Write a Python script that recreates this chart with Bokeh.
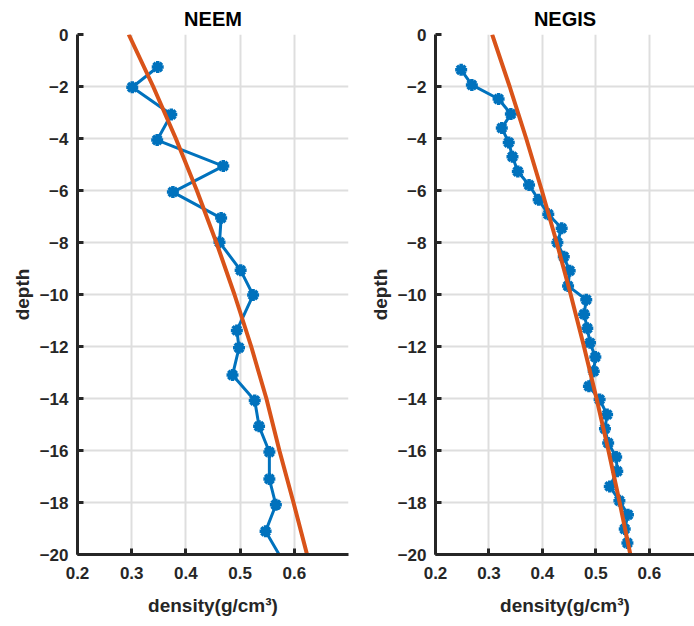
from bokeh.plotting import figure
from bokeh.layouts import row
from bokeh.models import FixedTicker, Range1d
from bokeh.embed import file_html
from bokeh.resources import INLINE

# ---- data ----
neem_depth = [-1.25, -2.03, -3.08, -4.06, -5.06, -6.06, -7.06, -7.99, -9.07, -10.02,
              -11.38, -12.05, -13.1, -14.08, -15.07, -16.06, -17.1, -18.09, -19.11, -21.0]
neem_density = [0.348, 0.301, 0.373, 0.347, 0.469, 0.376, 0.465, 0.462, 0.501, 0.524,
                0.494, 0.498, 0.486, 0.527, 0.535, 0.554, 0.554, 0.566, 0.547, 0.600]

negis_depth = [-1.36, -1.94, -2.48, -3.06, -3.6, -4.15, -4.70, -5.27, -5.79, -6.36,
               -6.91, -7.45, -8.0, -8.55, -9.09, -9.67, -10.2, -10.76, -11.3, -11.86,
               -12.4, -12.95, -13.53, -14.04, -14.62, -15.16, -15.71, -16.25, -16.8,
               -17.38, -17.93, -18.47, -19.02, -19.56]
negis_density = [0.248, 0.268, 0.318, 0.341, 0.324, 0.337, 0.344, 0.354, 0.375, 0.393,
                 0.411, 0.436, 0.428, 0.440, 0.451, 0.448, 0.482, 0.478, 0.484, 0.489,
                 0.499, 0.496, 0.487, 0.507, 0.521, 0.517, 0.523, 0.538, 0.540,
                 0.526, 0.544, 0.560, 0.554, 0.559]

model_depth = [0, -2, -4, -6, -8, -10, -12, -14, -16, -18, -20]
neem_model = [0.2945, 0.3396, 0.3814, 0.4202, 0.4562, 0.4896, 0.5205, 0.5485, 0.5725, 0.5985, 0.6235]
negis_model = [0.306, 0.3387, 0.3697, 0.3989, 0.4267, 0.4529, 0.4777, 0.5012, 0.5235, 0.5445, 0.5645]

x_ticks = [0.2, 0.3, 0.4, 0.5, 0.6]
y_ticks = [0, -2, -4, -6, -8, -10, -12, -14, -16, -18, -20]

BLUE = "#0072BD"
ORANGE = "#D95319"
AXC = "#262626"
FONT = "Liberation Sans"


def make(title, dens, depth, model, width, border_left, border_right, xmax):
    p = figure(width=width, height=626, output_backend="svg", toolbar_location=None,
               x_range=Range1d(0.2, xmax), y_range=Range1d(-20, 0),
               min_border_left=border_left, min_border_right=border_right,
               min_border_top=34, min_border_bottom=72)
    p.outline_line_color = None
    p.background_fill_color = "white"
    p.border_fill_color = "white"

    p.title.text = title
    p.title.align = "center"
    p.title.text_font = FONT
    p.title.text_font_style = "bold"
    p.title.text_font_size = "20px"
    p.title.text_color = "black"
    p.title.offset = 0
    p.title.standoff = 9

    p.xaxis.ticker = FixedTicker(ticks=x_ticks)
    p.yaxis.ticker = FixedTicker(ticks=y_ticks)
    for ax in (p.xaxis, p.yaxis):
        ax.axis_line_width = 3
        ax.axis_line_color = AXC
        ax.major_tick_line_width = 3
        ax.major_tick_line_color = AXC
        ax.major_tick_in = 6
        ax.major_tick_out = 0
        ax.minor_tick_line_color = None
        ax.major_label_text_font = FONT
        ax.major_label_text_font_style = "bold"
        ax.major_label_text_font_size = "17px"
        ax.major_label_text_color = AXC
        ax.axis_label_text_font = FONT
        ax.axis_label_text_font_style = "bold"
        ax.axis_label_text_font_size = "19px"
        ax.axis_label_text_color = AXC
    p.xaxis.axis_label = "density(g/cm³)"
    p.yaxis.axis_label = "depth"
    p.xaxis.major_label_standoff = 12
    p.yaxis.major_label_standoff = 9
    p.xaxis.axis_label_standoff = 13
    p.yaxis.axis_label_standoff = 4

    p.xgrid.grid_line_color = "#dedede"
    p.ygrid.grid_line_color = "#dedede"
    p.xgrid.grid_line_width = 2
    p.ygrid.grid_line_width = 2

    p.line(dens, depth, line_color=BLUE, line_width=3)
    p.scatter(dens, depth, marker="asterisk", size=12, line_color=BLUE, line_width=3.5)
    p.scatter(dens, depth, marker="circle", size=8, line_color=BLUE, fill_color=BLUE)
    p.line(model, model_depth, line_color=ORANGE, line_width=4)
    return p


p1 = make("NEEM", neem_density, neem_depth, neem_model, 360, 77, 12, 0.7)
p2 = make("NEGIS", negis_density, negis_depth, negis_model, 334, 75, 0, 0.6845)
p = row(p1, p2)

open("out.html", "w").write(file_html(p, INLINE))
